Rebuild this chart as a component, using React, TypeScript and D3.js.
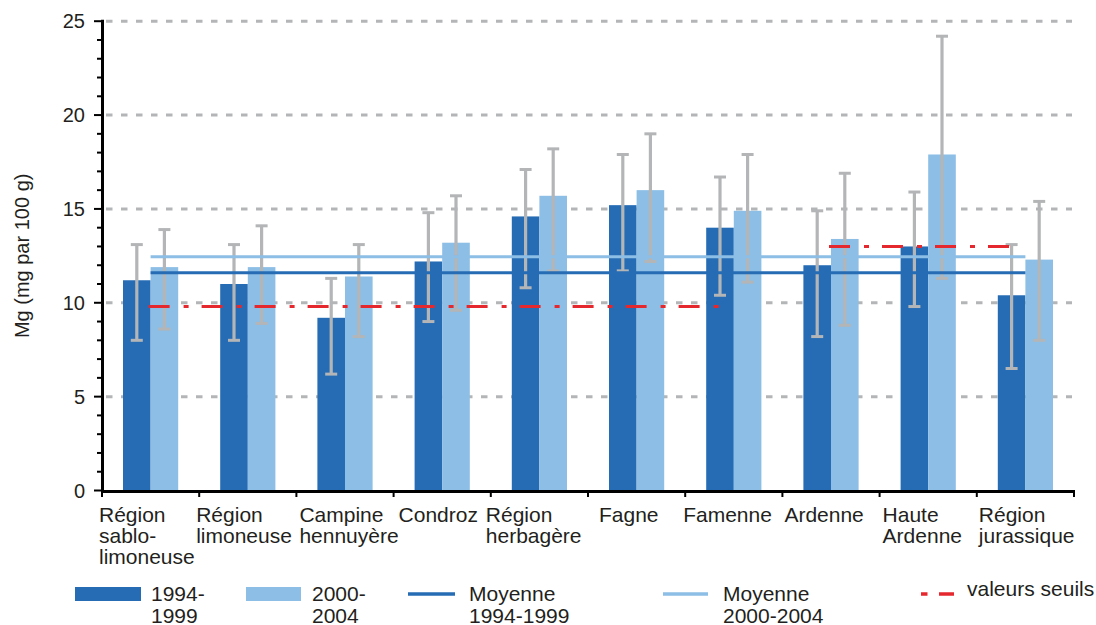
import React from "react";
import * as d3 from "d3";

// Regions (x categories) and their wrapped axis labels
const categories = [
  "Région sablo-limoneuse",
  "Région limoneuse",
  "Campine hennuyère",
  "Condroz",
  "Région herbagère",
  "Fagne",
  "Famenne",
  "Ardenne",
  "Haute Ardenne",
  "Région jurassique",
];
const categoryLines = [
  ["Région", "sablo-", "limoneuse"],
  ["Région", "limoneuse"],
  ["Campine", "hennuyère"],
  ["Condroz"],
  ["Région", "herbagère"],
  ["Fagne"],
  ["Famenne"],
  ["Ardenne"],
  ["Haute", "Ardenne"],
  ["Région", "jurassique"],
];

// Mg means per period, with low/high of the error bars
const mg1994 = [11.2, 11.0, 9.2, 12.2, 14.6, 15.2, 14.0, 12.0, 13.0, 10.4];
const low1994 = [8.0, 8.0, 6.2, 9.0, 10.8, 11.7, 10.4, 8.2, 9.8, 6.5];
const high1994 = [13.1, 13.1, 11.3, 14.8, 17.1, 17.9, 16.7, 14.9, 15.9, 13.1];

const mg2000 = [11.9, 11.9, 11.4, 13.2, 15.7, 16.0, 14.9, 13.4, 17.9, 12.3];
const low2000 = [8.6, 8.9, 8.2, 9.6, 11.7, 12.2, 11.1, 8.8, 11.3, 8.0];
const high2000 = [13.9, 14.1, 13.1, 15.7, 18.2, 19.0, 17.9, 16.9, 24.2, 15.4];

// Overall averages
const mean1994 = 11.6;
const mean2000 = 12.45;

// Threshold values and the regions they span
const thresholdValues = [9.8, 13.0];
const thresholdFrom = ["Région sablo-limoneuse", "Ardenne"];
const thresholdTo = ["Famenne", "Région jurassique"];

const yTicks = [0, 5, 10, 15, 20, 25];
const periods = ["1994-1999", "2000-2004"];

const W = 1096;
const H = 625;
const FONT = "'Liberation Sans', Arial, Helvetica, sans-serif";
const TEXT = "#231f20";
const DARK = "#266cb5";
const LIGHT = "#8cbee6";
const GREY = "#b3b5b7";
const RED = "#e5282d";

// small per-label horizontal nudges for the category captions
const labelNudge = [-3, -3, 3, 5, -5, 11, -2, 2, 3, 2];

export default function App() {
  const x = d3.scaleBand<string>().domain(categories).range([102, 1074]).padding(0);
  const bw = x.bandwidth();
  const barW = 27.6;
  const sub = d3
    .scaleBand<string>()
    .domain(periods)
    .range([bw / 2 - barW, bw / 2 + barW])
    .padding(0);
  const y = d3.scaleLinear().domain([0, 25]).range([490.5, 21.2]);
  const minor = d3.range(0, 26, 1);
  const center = (c: string) => (x(c) as number) + bw / 2;

  const series = [
    { key: periods[0], vals: mg1994, lo: low1994, hi: high1994, color: DARK },
    { key: periods[1], vals: mg2000, lo: low2000, hi: high2000, color: LIGHT },
  ];

  return (
    <svg
      width={W}
      height={H}
      style={{ position: "absolute", left: 0, top: 0, background: "#fff" }}
      fontFamily={FONT}
    >
      {/* dashed gridlines */}
      {yTicks
        .filter((t) => t > 0)
        .map((t) => (
          <line
            key={"g" + t}
            x1={106}
            x2={1072}
            y1={y(t)}
            y2={y(t)}
            stroke={GREY}
            strokeWidth={3}
            strokeDasharray="6.5 8.5"
          />
        ))}

      {/* bars */}
      {series.map((s) =>
        categories.map((c, i) => (
          <rect
            key={s.key + c}
            x={(x(c) as number) + (sub(s.key) as number)}
            y={y(s.vals[i])}
            width={sub.bandwidth()}
            height={y(0) - y(s.vals[i])}
            fill={s.color}
          />
        ))
      )}

      {/* error bars */}
      {series.map((s) =>
        categories.map((c, i) => {
          const cx = (x(c) as number) + (sub(s.key) as number) + sub.bandwidth() / 2;
          return (
            <g key={"e" + s.key + c} stroke={GREY}>
              <line x1={cx} x2={cx} y1={y(s.hi[i])} y2={y(s.lo[i])} strokeWidth={3.2} />
              <line x1={cx - 6} x2={cx + 6} y1={y(s.hi[i])} y2={y(s.hi[i])} strokeWidth={3} />
              <line x1={cx - 6} x2={cx + 6} y1={y(s.lo[i])} y2={y(s.lo[i])} strokeWidth={3} />
            </g>
          );
        })
      )}

      {/* period averages */}
      <line
        x1={center(categories[0])}
        x2={center(categories[categories.length - 1])}
        y1={y(mean2000)}
        y2={y(mean2000)}
        stroke={LIGHT}
        strokeWidth={3}
      />
      <line
        x1={center(categories[0])}
        x2={center(categories[categories.length - 1])}
        y1={y(mean1994)}
        y2={y(mean1994)}
        stroke={DARK}
        strokeWidth={3}
      />

      {/* thresholds */}
      {thresholdValues.map((v, i) => (
        <line
          key={"t" + i}
          x1={center(thresholdFrom[i]) - 2}
          x2={center(thresholdTo[i]) - 6}
          y1={y(v)}
          y2={y(v)}
          stroke={RED}
          strokeWidth={3}
          strokeDasharray="21 14 5 13"
        />
      ))}

      {/* y axis */}
      <line x1={102.5} x2={102.5} y1={y(25) - 1.5} y2={492} stroke="#000" strokeWidth={3} />
      {minor.map((t) => (
        <line
          key={"m" + t}
          x1={t % 5 === 0 ? 94 : 97}
          x2={102}
          y1={y(t)}
          y2={y(t)}
          stroke="#000"
          strokeWidth={2}
        />
      ))}
      {yTicks.map((t) => (
        <text
          key={"l" + t}
          x={85}
          y={y(t)}
          dy="0.36em"
          textAnchor="end"
          fontSize={20}
          fill={TEXT}
        >
          {t}
        </text>
      ))}
      <text
        transform={`translate(29, ${y(12.5)}) rotate(-90)`}
        textAnchor="middle"
        fontSize={20}
        fill={TEXT}
      >
        Mg (mg par 100 g)
      </text>

      {/* x axis */}
      <line x1={101} x2={1075} y1={491.5} y2={491.5} stroke="#000" strokeWidth={3} />
      {d3.range(categories.length + 1).map((i) => {
        const px = i < categories.length ? (x(categories[i]) as number) : 1074;
        return <line key={"xt" + i} x1={px} x2={px} y1={491} y2={497} stroke="#000" strokeWidth={2} />;
      })}
      {categories.map((c, i) => (
        <text
          key={"cl" + c}
          x={(x(c) as number) + labelNudge[i]}
          y={522}
          fontSize={21}
          fill={TEXT}
        >
          {categoryLines[i].map((ln, k) => (
            <tspan key={k} x={(x(c) as number) + labelNudge[i]} dy={k === 0 ? 0 : 21}>
              {ln}
            </tspan>
          ))}
        </text>
      ))}

      {/* legend */}
      <g fontSize={21} fill={TEXT}>
        <rect x={75} y={587} width={66} height={14} fill={DARK} />
        <text x={151} y={601}>
          <tspan x={151}>1994-</tspan>
          <tspan x={151} dy={21.5}>1999</tspan>
        </text>
        <rect x={246} y={587} width={55} height={14} fill={LIGHT} />
        <text x={312} y={601}>
          <tspan x={312}>2000-</tspan>
          <tspan x={312} dy={21.5}>2004</tspan>
        </text>
        <line x1={408} x2={455} y1={594} y2={594} stroke={DARK} strokeWidth={3.5} />
        <text x={469} y={601}>
          <tspan x={469}>Moyenne</tspan>
          <tspan x={469} dy={21.5}>1994-1999</tspan>
        </text>
        <line x1={663} x2={708} y1={594} y2={594} stroke={LIGHT} strokeWidth={3.5} />
        <text x={723} y={601}>
          <tspan x={723}>Moyenne</tspan>
          <tspan x={723} dy={21.5}>2000-2004</tspan>
        </text>
        <line
          x1={921}
          x2={954}
          y1={594}
          y2={594}
          stroke={RED}
          strokeWidth={3.5}
          strokeDasharray="6.5 11.5 15 100"
        />
        <text x={967} y={596}>valeurs seuils</text>
      </g>
    </svg>
  );
}
